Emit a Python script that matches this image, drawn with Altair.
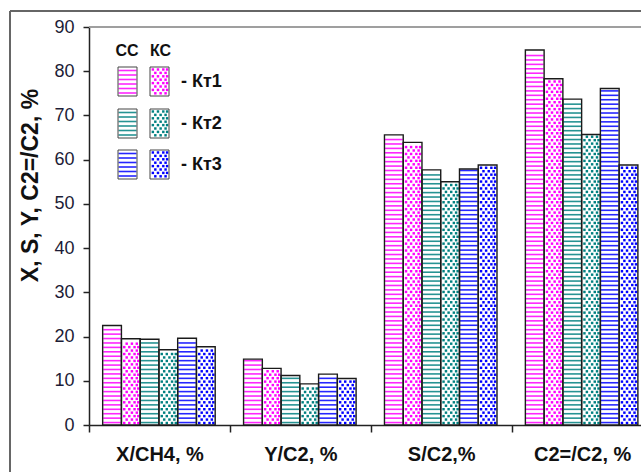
import json
import altair as alt
import pandas as pd

# ---- data -------------------------------------------------------------
categories = ["X/CH4, %", "Y/C2, %", "S/C2,%", "C2=/C2, %"]
catalysts = ["Кт1", "Кт2", "Кт3"]
modes = ["СС", "КС"]                      # СС -> striped, КС -> dotted
colors = ["#FF00FF", "#008080", "#0000FF"]

# series order inside each group: СС Кт1, КС Кт1, СС Кт2, КС Кт2, СС Кт3, КС Кт3
vals_x_ch4 = [22.5, 19.5, 19.4, 17.0, 19.6, 17.7]
vals_y_c2 = [14.9, 12.8, 11.2, 9.3, 11.5, 10.5]
vals_s_c2 = [65.6, 63.9, 57.7, 55.0, 57.9, 58.8]
vals_c2e_c2 = [84.8, 78.3, 73.7, 65.7, 76.1, 58.8]
group_values = [vals_x_ch4, vals_y_c2, vals_s_c2, vals_c2e_c2]

y_ticks = list(range(0, 91, 10))

# ---- layout -----------------------------------------------------------
W, H = 552, 398                 # plot area in pixels
GROUP_PX = 140.9                # pixel width of one category slot
XMAX = W / GROUP_PX             # visible part of the category axis
YMAX = 90
BAR_W = 0.1331                  # bar width in category units
GROUP_PAD = 0.097               # gap before first bar of a group
FONT = "Liberation Sans"
INK = "#111111"
DOT_ROWS = [[0.15, 0.42, 0.7, 0.9], [0.28, 0.56, 0.82]]

# ---- bars and their fill patterns --------------------------------------
bar_rows, stripe_rows, dot_rows = [], [], []
for gi, (cat, vals) in enumerate(zip(categories, group_values)):
    for j, v in enumerate(vals):
        kt, mode = j // 2, j % 2
        x0 = gi + GROUP_PAD + j * BAR_W
        x1 = x0 + BAR_W
        color = colors[kt]
        bar_rows.append(dict(cat=cat, series=f"{modes[mode]} {catalysts[kt]}",
                             x0=x0, x1=x1, value=v, zero=0, color=color))
        if mode == 0:
            y = 0.55
            while y < v - 0.3:
                stripe_rows.append(dict(x0=x0 + 0.004, x1=x1 - 0.004, y=y, color=color))
                y += 1.0
        else:
            r = 0
            y = 0.45
            while y < v - 0.35:
                for f in DOT_ROWS[r % 2]:
                    dot_rows.append(dict(x=x0 + f * BAR_W, y=y, color=color))
                r += 1
                y += 0.78

bars = pd.DataFrame(bar_rows)
stripes = pd.DataFrame(stripe_rows)
dots = pd.DataFrame(dot_rows)

xscale = alt.Scale(domain=[0, XMAX], nice=False, zero=False)
yscale = alt.Scale(domain=[0, YMAX], nice=False)

# category names sit in the middle of each slot, ticks on the slot borders
label_expr = json.dumps(categories) + "[floor(datum.value)]"
x_label_axis = alt.Axis(values=[0.5, 1.5, 2.5, 3.5], labelExpr=label_expr, title=None,
                        grid=False, ticks=False, orient="bottom",
                        domainColor="#222", domainWidth=1.5, labelFont=FONT,
                        labelFontWeight="bold", labelFontSize=20, labelColor=INK,
                        labelAlign="center", labelBaseline="top", labelPadding=19,
                        labelFlush=False, labelOverlap=False, labelBound=False)
x_tick_axis = alt.Axis(values=[0, 1, 2, 3], labels=False, title=None, grid=False,
                       domain=False, orient="bottom", tickSize=7, tickWidth=1.5,
                       tickColor="#222")
y_axis = alt.Axis(values=y_ticks, title="X, S, Y, C2=/C2, %", grid=False,
                  tickSize=6, tickWidth=1.5, tickColor="#222", domainColor="#222",
                  domainWidth=1.5, labelFont=FONT, labelFontSize=18,
                  labelColor="#1c1c36", labelPadding=9,
                  titleFont=FONT, titleFontSize=23, titleFontWeight="bold",
                  titleColor=INK, titleAngle=270, titleX=-52, titleY=158,
                  titleAlign="center", titleBaseline="alphabetic")

base = alt.Chart(bars)
bar_bg = base.mark_rect(fill="white", stroke=None).encode(
    x=alt.X("x0:Q", scale=xscale, axis=x_label_axis),
    x2="x1:Q",
    y=alt.Y("value:Q", scale=yscale, axis=y_axis),
    y2="zero:Q",
)
stripe_layer = alt.Chart(stripes).mark_rule(strokeWidth=1.6, opacity=0.85).encode(
    x=alt.X("x0:Q", scale=xscale, axis=None),
    x2="x1:Q",
    y=alt.Y("y:Q", scale=yscale),
    color=alt.Color("color:N", scale=None),
)
dot_layer = alt.Chart(dots).mark_square(size=6, opacity=1).encode(
    x=alt.X("x:Q", scale=xscale, axis=None),
    y=alt.Y("y:Q", scale=yscale),
    color=alt.Color("color:N", scale=None),
)
bar_outline = base.mark_rect(fillOpacity=0, stroke="#1a1a1a", strokeWidth=1.4).encode(
    x=alt.X("x0:Q", scale=xscale, axis=x_tick_axis),
    x2="x1:Q",
    y=alt.Y("value:Q", scale=yscale),
    y2="zero:Q",
)
main = alt.layer(bar_bg, stripe_layer, dot_layer, bar_outline).resolve_axis(x="independent")

# ---- hand-drawn key in pixel space -------------------------------------
sw_x = [(29, 48), (61, 80)]           # СС column, КС column
sw_top = [40, 82, 123]
SW_H = 29
sw_rows, sw_stripes, sw_dots, key_labels = [], [], [], []
for k, kt in enumerate(catalysts):
    top = sw_top[k]
    for m, (a, b) in enumerate(sw_x):
        sw_rows.append(dict(x0=a, x1=b, y0=top, y1=top + SW_H))
        if m == 0:
            yy = top + 3.5
            while yy < top + SW_H - 1:
                sw_stripes.append(dict(x0=a + 0.5, x1=b - 0.5, y=yy, color=colors[k]))
                yy += 4.5
        else:
            r = 0
            yy = top + 2.5
            while yy < top + SW_H - 1.5:
                for f in DOT_ROWS[r % 2]:
                    sw_dots.append(dict(x=a + f * (b - a), y=yy, color=colors[k]))
                r += 1
                yy += 3.4
    key_labels.append(dict(x=92, y=top + SW_H / 2 + 0.5, text=f"- {kt}"))
headers = pd.DataFrame(dict(x=[38, 71.5], y=[24, 24], text=modes))

pxs = alt.Scale(domain=[0, W], nice=False, zero=False)
pys = alt.Scale(domain=[0, H], nice=False, zero=False, reverse=True)

sw_df = pd.DataFrame(sw_rows)
key_bg = alt.Chart(sw_df).mark_rect(fill="white").encode(
    x=alt.X("x0:Q", scale=pxs, axis=None), x2="x1:Q",
    y=alt.Y("y0:Q", scale=pys, axis=None), y2="y1:Q",
)
key_stripes = alt.Chart(pd.DataFrame(sw_stripes)).mark_rule(strokeWidth=1.6, opacity=0.85).encode(
    x=alt.X("x0:Q", scale=pxs, axis=None), x2="x1:Q",
    y=alt.Y("y:Q", scale=pys, axis=None),
    color=alt.Color("color:N", scale=None),
)
key_dots = alt.Chart(pd.DataFrame(sw_dots)).mark_square(size=6, opacity=1).encode(
    x=alt.X("x:Q", scale=pxs, axis=None),
    y=alt.Y("y:Q", scale=pys, axis=None),
    color=alt.Color("color:N", scale=None),
)
key_outline = alt.Chart(sw_df).mark_rect(fillOpacity=0, stroke="#444", strokeWidth=1).encode(
    x=alt.X("x0:Q", scale=pxs, axis=None), x2="x1:Q",
    y=alt.Y("y0:Q", scale=pys, axis=None), y2="y1:Q",
)
key_text = alt.Chart(pd.DataFrame(key_labels)).mark_text(
    font=FONT, fontSize=18, fontWeight="bold", color=INK, align="left", baseline="middle"
).encode(
    x=alt.X("x:Q", scale=pxs, axis=None),
    y=alt.Y("y:Q", scale=pys, axis=None),
    text="text:N",
)
key_head = alt.Chart(headers).mark_text(
    font=FONT, fontSize=16, fontWeight="bold", color=INK, align="center", baseline="middle"
).encode(
    x=alt.X("x:Q", scale=pxs, axis=None),
    y=alt.Y("y:Q", scale=pys, axis=None),
    text="text:N",
)

# frame lines: outer chart border (left, top) and the plot-area top edge
frame_left = alt.Chart(headers).mark_rule(color="#666", strokeWidth=2).encode(
    x=alt.value(-79), y=alt.value(-16), y2=alt.value(H + 47)
)
frame_top = alt.Chart(headers).mark_rule(color="#666", strokeWidth=2).encode(
    x=alt.value(-79), x2=alt.value(W), y=alt.value(-16)
)
plot_top = alt.Chart(headers).mark_rule(color="#999", strokeWidth=1.5).encode(
    x=alt.value(0), x2=alt.value(W), y=alt.value(0)
)

key = alt.layer(key_bg, key_stripes, key_dots, key_outline, key_text, key_head,
                frame_left, frame_top, plot_top)

chart = (
    alt.layer(main, key)
    .resolve_scale(x="independent", y="independent")
    .properties(
        width=W, height=H,
        autosize=alt.AutoSizeParams(type="none"),
        padding={"left": 89, "top": 27, "right": 0, "bottom": 47},
        background="white",
    )
    .configure_view(stroke=None)
)

chart.save("out.html", embed_options={"renderer": "svg", "actions": False})
